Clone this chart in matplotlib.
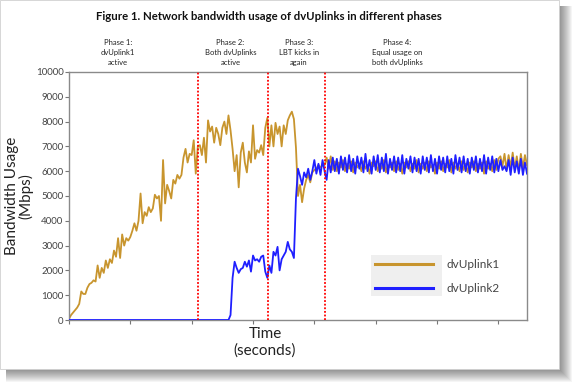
import matplotlib.pyplot as plt
from matplotlib.patches import Rectangle

plt.rcParams['font.family'] = ['Lato', 'DejaVu Sans']

# one sample every ~2 px of the original time axis
dvuplink1 = [
    50, 200, 300, 400, 500, 650, 1150, 1050, 1050, 1300, 1450, 1500, 1600, 1550, 2200,
    1700, 2100, 1900, 2400, 2100, 2450, 2300, 2800, 2550, 3300, 2500, 3450, 3000, 3300, 3200,
    3350, 3600, 3900, 3600, 4000, 5100, 3900, 4350, 4200, 4550, 4350, 4500, 5050, 4900, 5000,
    4000, 6450, 4700, 5450, 5200, 4900, 5650, 5500, 5850, 5700, 5850, 6550, 6900, 6350, 6700,
    6650, 7250, 5900, 7000, 7050, 6650, 7350, 6350, 8050, 7600, 7800, 7150, 7750, 7500, 7050,
    7750, 8000, 7500, 8250, 7650, 6900, 6000, 6650, 5350, 6750, 7150, 6350, 5950, 6800, 6350,
    7850, 6500, 6850, 6750, 7050, 6650, 7750, 8150, 7000, 7850, 7000, 7950, 7500, 7800, 7000,
    7850, 7500, 8050, 8250, 8400, 8100, 6950, 5000, 5450, 4750, 5300, 5650, 5850, 5550, 5950,
    6050, 6100, 6250, 6150, 6250, 6250, 6550, 6100, 6600, 6050, 6400, 6000, 6350, 6150, 6450,
    6000, 6300, 6100, 6400, 5950, 6350, 6150, 6300, 6000, 6400, 6100, 6250, 5900, 6350, 6200,
    6400, 6000, 6300, 6100, 6450, 5950, 6250, 6150, 6350, 6000, 6400, 6050, 6300, 5900, 6350,
    6150, 6400, 6000, 6300, 6100, 6450, 5950, 6300, 6100, 6350, 6000, 6400, 6150, 6250, 5900,
    6350, 6100, 6400, 6000, 6300, 6150, 6450, 5950, 6350, 6100, 6300, 6000, 6400, 6050, 6300,
    5950, 6350, 6150, 6400, 6000, 6300, 6100, 6350, 5900, 6400, 6100, 6300, 6000, 6450, 6050,
    6500, 6600, 6200, 6700, 6050, 6650, 6150, 6750, 6100, 6600, 6000, 6700, 6150, 6650, 6250,
]
dvuplink2 = [
    0, 0, 0, 0, 0, 0, 0, 0, 0, 0, 0, 0, 0, 0, 0,
    0, 0, 0, 0, 0, 0, 0, 0, 0, 0, 0, 0, 0, 0, 0,
    0, 0, 0, 0, 0, 0, 0, 0, 0, 0, 0, 0, 0, 0, 0,
    0, 0, 0, 0, 0, 0, 0, 0, 0, 0, 0, 0, 0, 0, 0,
    0, 0, 0, 0, 0, 0, 0, 0, 0, 0, 0, 0, 0, 0, 0,
    0, 0, 0, 0, 200, 1700, 2350, 2100, 1900, 2050, 2100, 2350, 2150, 2400, 1950,
    2600, 2400, 2450, 2350, 2550, 2600, 1950, 1700, 2200, 1900, 2750, 2600, 2950, 2000, 2450,
    2600, 2750, 3150, 2850, 2750, 2500, 4900, 6100, 5800, 5450, 5950, 5750, 6100, 5650, 6000,
    6450, 5900, 6300, 5850, 6450, 6000, 5650, 6450, 5950, 6550, 6000, 6500, 5900, 6600, 6050,
    6550, 5950, 6650, 6000, 6500, 5900, 6600, 6100, 6550, 5950, 6700, 6000, 6450, 5900, 6600,
    6050, 6650, 5950, 6550, 6000, 6700, 5900, 6500, 6050, 6600, 5950, 6550, 6000, 6650, 5900,
    6500, 6100, 6600, 5950, 6550, 6000, 6500, 5900, 6600, 6050, 6550, 5950, 6650, 6000, 6500,
    5900, 6600, 6050, 6550, 5950, 6600, 6000, 6500, 5900, 6650, 6050, 6550, 5950, 6600, 6000,
    6500, 5900, 6550, 6050, 6600, 5950, 6500, 6000, 6650, 5900, 6550, 6050, 6600, 5950, 6500,
    6000, 6450, 6050, 6200, 6000, 6450, 5850, 6550, 5950, 6400, 5900, 6500, 5850, 6350, 5900,
]
time = list(range(len(dvuplink1)))

phase_bounds = [63, 97.5, 125]
phase_labels = ['Phase 1:\ndvUplink1\nactive', 'Phase 2:\nBoth dvUplinks\nactive',
                'Phase 3:\nLBT kicks in\nagain', 'Phase 4:\nEqual usage on\nboth dvUplinks']
phase_label_x = [24, 79, 112.5, 160.5]
y_ticks = list(range(0, 10001, 1000))

W, H = 576, 386
fig = plt.figure(figsize=(W / 100, H / 100), dpi=100)

# soft drop shadow + white page behind the chart
for k in range(14):
    fig.patches.append(Rectangle((6 / W, (17 - k) / H), (553 + k) / W, (363 + k) / H,
                                 transform=fig.transFigure, facecolor='black',
                                 edgecolor='none', alpha=0.04, zorder=-10))
fig.patches.append(Rectangle((0, 17 / H), 559 / W, 369 / H, transform=fig.transFigure,
                             facecolor='white', edgecolor='#d0d0d0', lw=0.6, zorder=-9))

ax = fig.add_axes([69 / W, 1 - 320 / H, 458 / W, 248 / H])
ax.set_facecolor('white')

ax.plot(time, dvuplink1, color='#c8952e', lw=1.3, label='dvUplink1', zorder=2)
ax.plot(time, dvuplink2, color='#1f1fff', lw=1.3, label='dvUplink2', zorder=3)
for xb in phase_bounds:
    ax.axvline(xb, color='red', lw=1.3, ls=(0, (1, 1)), zorder=4)

ax.set_xlim(0, len(time) - 1)
ax.set_ylim(0, 10000)
ax.set_yticks(y_ticks)
ax.set_xticks(range(0, 211, 30))
ax.set_xticklabels([])
ax.tick_params(axis='both', length=3, width=0.8, color='#777777', pad=1,
               labelsize=7, labelcolor='#444444')
for sp in ax.spines.values():
    sp.set_color('#8a8a8a')
    sp.set_linewidth(1.0)

ax.set_ylabel('Bandwidth Usage\n(Mbps)', fontsize=11, linespacing=0.95, color='#222222')
ax.yaxis.set_label_coords(-0.077, 0.5)
ax.set_xlabel('Time\n(seconds)', fontsize=11, linespacing=1.2, color='#222222')
ax.xaxis.set_label_coords(0.428, -0.03)

fig.text(269 / W, 1 - 17 / H, 'Figure 1. Network bandwidth usage of dvUplinks in different phases',
         ha='center', va='center', fontsize=8.2, fontweight='bold', color='#111111')
for lx, txt in zip(phase_label_x, phase_labels):
    ax.text(lx, 1.025, txt, transform=ax.get_xaxis_transform(), ha='center', va='bottom',
            fontsize=5.5, linespacing=1.45, color='#222222')

# legend: grey box behind the handles only, labels to the right
ax.add_patch(Rectangle((0.659, 0.097), 0.155, 0.165, transform=ax.transAxes,
                       facecolor='#efefef', edgecolor='none', zorder=5))
leg = ax.legend(loc='center left', bbox_to_anchor=(0.668, 0.176), frameon=False,
                handlelength=4.9, handletextpad=1.2, labelspacing=1.1, fontsize=8.5,
                borderpad=0, borderaxespad=0)
leg.set_zorder(6)
for t in leg.get_texts():
    t.set_color('#444444')
for h in leg.get_lines():
    h.set_linewidth(2.2)

fig.savefig('out.png', dpi=100)
